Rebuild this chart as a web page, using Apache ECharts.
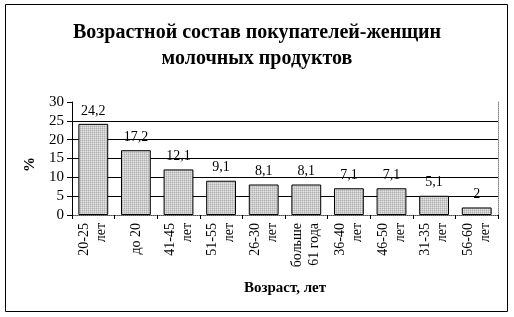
<!DOCTYPE html>
<html><head><meta charset="utf-8">
<script src="https://cdn.jsdelivr.net/npm/echarts@6/dist/echarts.min.js"></script>
<style>html,body{margin:0;padding:0;background:#fff}#c{width:514px;height:317px}</style>
</head><body><div id="c"></div>
<script>
const titleText = 'Возрастной состав покупателей-женщин\nмолочных продуктов';
const categories = ['20-25\nлет','до 20','41-45\nлет','51-55\nлет','26-30\nлет','больше\n61 года','36-40\nлет','46-50\nлет','31-35\nлет','56-60\nлет'];
const values = [24.2, 17.2, 12.1, 9.1, 8.1, 8.1, 7.1, 7.1, 5.1, 2];
const yTicks = [0, 5, 10, 15, 20, 25, 30];

const pc = document.createElement('canvas');
pc.width = 2; pc.height = 2;
const px = pc.getContext('2d');
px.fillStyle = '#cccccc'; px.fillRect(0,0,2,2);
px.fillStyle = '#b0b0b0'; px.fillRect(0,0,1,1);
px.fillStyle = '#e2e2e2'; px.fillRect(1,1,1,1);

const F = '"Liberation Serif", "Times New Roman", serif';
const chart = echarts.init(document.getElementById('c'), null, {renderer:'canvas'});
chart.setOption({
  animation:false,
  textStyle:{fontFamily:F},
  title:{text:titleText,left:'center',top:15,textStyle:{fontFamily:F,fontWeight:'bold',fontSize:20,lineHeight:26,color:'#000'}},
  graphic:[{type:'rect',shape:{x:5.5,y:4.5,width:502,height:307},style:{fill:'none',stroke:'#000',lineWidth:1},silent:true}],
  grid:{left:72,right:16,top:102,bottom:102,containLabel:false},
  xAxis:[{
    type:'category',data:categories,
    axisLine:{lineStyle:{color:'#000',width:1}},
    axisTick:{show:true,interval:0,length:4,lineStyle:{color:'#000'}},
    axisLabel:{interval:0,rotate:90,margin:8,fontFamily:F,fontSize:14,lineHeight:17,color:'#000'},
    name:'Возраст, лет',nameLocation:'middle',nameGap:66,
    nameTextStyle:{fontFamily:F,fontWeight:'bold',fontSize:15,color:'#000'}
  },{
    type:'category',data:categories,position:'top',
    axisLine:{lineStyle:{color:'#808080',type:'dotted',width:1}},
    axisTick:{show:false},axisLabel:{show:false}
  }],
  yAxis:[{
    type:'value',min:0,max:30,interval:5,
    axisLine:{show:true,lineStyle:{color:'#000',width:1}},
    axisTick:{show:true,length:5,lineStyle:{color:'#000'}},
    axisLabel:{fontFamily:F,fontSize:15,color:'#000',margin:8,formatter:v=>yTicks.includes(v)?String(v):''},
    splitLine:{show:true,lineStyle:{color:['#000','#000','#000','#000','#000','#000','rgba(0,0,0,0)'],width:1}},
    name:'%',nameLocation:'middle',nameGap:32,
    nameTextStyle:{fontFamily:F,fontWeight:'bold',fontSize:15,color:'#000',padding:[0,0,0,-12]}
  },{
    type:'value',min:0,max:30,interval:5,position:'right',
    axisLine:{show:true,lineStyle:{color:'#808080',type:'dotted',width:1}},
    axisTick:{show:false},axisLabel:{show:false},splitLine:{show:false}
  }],
  series:[{
    type:'bar',data:values,barWidth:'70%',
    itemStyle:{color:{image:pc,repeat:'repeat'},borderColor:'#000',borderWidth:1},
    label:{show:true,position:'top',distance:6,fontFamily:F,fontSize:14,color:'#000',formatter:p=>String(p.value).replace('.',',')}
  }]
});
</script></body></html>
